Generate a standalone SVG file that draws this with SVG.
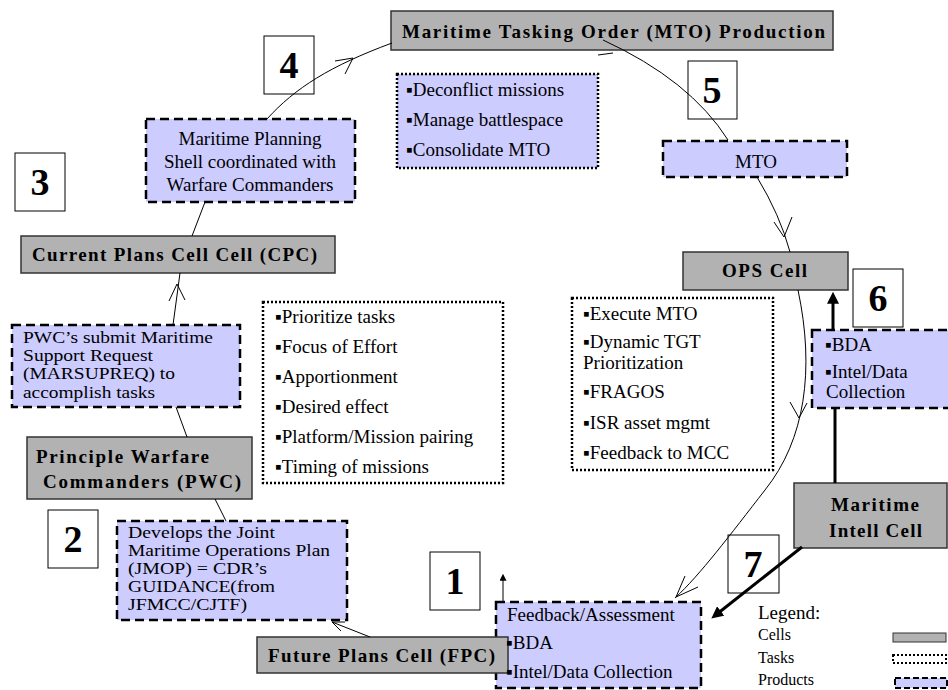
<svg xmlns="http://www.w3.org/2000/svg" width="948" height="690" viewBox="0 0 948 690">
<defs>
<style>
text{font-family:"Liberation Serif","Times New Roman",serif;font-size:19px;fill:#000}
.b{font-weight:bold}
.c{text-anchor:middle}
.s{font-size:16.5px}
.n{font-size:38px;font-weight:bold;text-anchor:middle}
.lg{font-size:16px}
.cell{fill:#b2b2b2;stroke:#333;stroke-width:1.5}
.task{fill:#fff;stroke:#000;stroke-width:2.5;stroke-dasharray:2 2}
.taskp{fill:#ccccff;stroke:#000;stroke-width:2.5;stroke-dasharray:2 2}
.prod{fill:#ccccff;stroke:#000;stroke-width:2.5;stroke-dasharray:9 5}
.num{fill:#fff;stroke:#000;stroke-width:1}
.ln{fill:none;stroke:#000;stroke-width:1}
.th{fill:none;stroke:#000;stroke-width:3}
</style>
<marker id="ah" viewBox="0 0 10 10" refX="4" refY="5" markerWidth="12" markerHeight="12" markerUnits="userSpaceOnUse" orient="auto"><path d="M0,0 L10,5 L0,10 z" fill="#000"/></marker>
<marker id="ahs" viewBox="0 0 10 10" refX="4" refY="5" markerWidth="7" markerHeight="7" markerUnits="userSpaceOnUse" orient="auto"><path d="M0,0 L10,5 L0,10 z" fill="#000"/></marker>
</defs>
<rect width="948" height="690" fill="#fff"/>

<g id="mto-production"><rect class="cell" x="391" y="11" width="442" height="39"/><text class="b" x="402" y="38" textLength="423" lengthAdjust="spacing">Maritime Tasking Order (MTO) Production</text></g>
<g id="num4"><rect class="num" x="264" y="36" width="50" height="58"/><text class="n" x="289" y="78">4</text></g>
<g id="num5"><rect class="num" x="688" y="61" width="49" height="58"/><text class="n" x="712" y="103">5</text></g>
<g id="mto-tasks"><rect class="taskp" x="397" y="74" width="201" height="94"/><text x="406" y="96">▪Deconflict missions</text><text x="406" y="126">▪Manage battlespace</text><text x="406" y="156">▪Consolidate MTO</text></g>
<g id="mto-product"><rect class="prod" x="663" y="141" width="184" height="36"/><text class="c" x="756" y="168">MTO</text></g>
<g id="planning-shell"><rect class="prod" x="146" y="119" width="209" height="83"/><text class="c" x="250" y="145">Maritime Planning</text><text class="c" x="250" y="168">Shell coordinated with</text><text class="c" x="250" y="191">Warfare Commanders</text></g>
<g id="num3"><rect class="num" x="15" y="153" width="50" height="58"/><text class="n" x="40" y="195">3</text></g>
<g id="cpc"><rect class="cell" x="21" y="236" width="314" height="37"/><text class="b" x="32" y="261" textLength="285" lengthAdjust="spacing">Current Plans Cell Cell (CPC)</text></g>
<g id="ops-cell"><rect class="cell" x="683" y="252" width="165" height="38"/><text class="b" x="722" y="277" textLength="85" lengthAdjust="spacing">OPS Cell</text></g>
<g id="num6"><rect class="num" x="853" y="269" width="50" height="58"/><text class="n" x="878" y="311">6</text></g>
<g id="bda-product"><rect class="prod" x="812" y="330" width="150" height="78"/><text x="825" y="351">▪BDA</text><text x="825" y="378">▪Intel/Data</text><text x="826" y="398">Collection</text></g>
<g id="pwc-request"><rect class="prod" x="12" y="325" width="228" height="82"/><text class="s" x="23" y="343" textLength="190" lengthAdjust="spacingAndGlyphs">PWC’s submit Maritime</text><text class="s" x="23" y="361" textLength="130" lengthAdjust="spacingAndGlyphs">Support Request</text><text class="s" x="23" y="379" textLength="152" lengthAdjust="spacingAndGlyphs">(MARSUPREQ) to</text><text class="s" x="23" y="398" textLength="132" lengthAdjust="spacingAndGlyphs">accomplish tasks</text></g>
<g id="cpc-tasks"><rect class="task" x="263" y="302" width="240" height="181"/><text x="275" y="323">▪Prioritize tasks</text><text x="275" y="353">▪Focus of Effort</text><text x="275" y="383">▪Apportionment</text><text x="275" y="413">▪Desired effect</text><text x="275" y="443">▪Platform/Mission pairing</text><text x="275" y="473">▪Timing of missions</text></g>
<g id="ops-tasks"><rect class="task" x="572" y="298" width="201" height="172"/><text x="583" y="320">▪Execute MTO</text><text x="583" y="348">▪Dynamic TGT</text><text x="583" y="369">Prioritization</text><text x="583" y="398">▪FRAGOS</text><text x="583" y="429">▪ISR asset mgmt</text><text x="583" y="459">▪Feedback to MCC</text></g>
<g id="pwc"><rect class="cell" x="27" y="437" width="225" height="62"/><text class="b" x="36" y="463" textLength="173" lengthAdjust="spacing">Principle Warfare</text><text class="b" x="43" y="488" textLength="198" lengthAdjust="spacing">Commanders (PWC)</text></g>
<g id="intell-cell"><rect class="cell" x="794" y="483" width="153" height="65"/><text class="b" x="831" y="511" textLength="88" lengthAdjust="spacing">Maritime</text><text class="b" x="829" y="537" textLength="93" lengthAdjust="spacing">Intell Cell</text></g>
<g id="num2"><rect class="num" x="48" y="510" width="50" height="58"/><text class="n" x="73" y="552">2</text></g>
<g id="jmop"><rect class="prod" x="117" y="521" width="230" height="99"/><text class="s" x="128" y="538" textLength="147" lengthAdjust="spacingAndGlyphs">Develops the Joint</text><text class="s" x="128" y="556" textLength="202" lengthAdjust="spacingAndGlyphs">Maritime Operations Plan</text><text class="s" x="128" y="574" textLength="139" lengthAdjust="spacingAndGlyphs">(JMOP) = CDR’s</text><text class="s" x="128" y="592" textLength="147" lengthAdjust="spacingAndGlyphs">GUIDANCE(from</text><text class="s" x="128" y="610" textLength="119" lengthAdjust="spacingAndGlyphs">JFMCC/CJTF)</text></g>
<g id="num7"><rect class="num" x="728" y="535" width="51" height="58"/><text class="n" x="753" y="577">7</text></g>
<g id="num1"><rect class="num" x="430" y="552" width="50" height="58"/><text class="n" x="455" y="594">1</text></g>
<g id="feedback"><rect class="prod" x="496" y="602" width="205" height="86"/></g>
<g id="fpc"><rect class="cell" x="257" y="637" width="251" height="36"/><text class="b" x="268" y="662" textLength="227" lengthAdjust="spacing">Future Plans Cell (FPC)</text></g>
<g id="feedback-text"><text x="507" y="621">Feedback/Assessment</text><text x="506" y="649">▪BDA</text><text x="506" y="678">▪Intel/Data Collection</text></g>
<g id="legend"><text x="758" y="619">Legend:</text><text class="lg" x="758" y="640">Cells</text><text class="lg" x="758" y="663">Tasks</text><text class="lg" x="758" y="685">Products</text>
<rect x="893" y="633" width="53" height="9" fill="#b2b2b2" stroke="#333" stroke-width="1"/>
<rect x="893" y="655" width="53" height="8" fill="#fff" stroke="#000" stroke-width="2" stroke-dasharray="2 2"/>
<rect x="895" y="678" width="52" height="10" fill="#ccccff" stroke="#000" stroke-width="2" stroke-dasharray="6 3"/></g>

<g id="connectors">
<path class="ln" d="M267,119 C295,88 330,66 392,43"/>
<polyline class="ln" points="335,61 353,58 345,74"/>
<path class="ln" d="M603,40 Q690,80 728,140"/>
<polyline class="ln" points="598,55 613,53"/>
<path class="ln" d="M757,177 Q780,215 790,252"/>
<polyline class="ln" points="774,222 784,237 792,217"/>
<path class="ln" d="M798,290 C815,370 805,440 765,490 C730,535 700,575 675,598"/>
<polyline class="ln" points="790,402 799,418 807,403"/>
<polyline class="ln" points="685,576 676,597 698,587"/>
<path class="ln" d="M173,325 L180,273"/>
<polyline class="ln" points="169,301 177,284 185,300"/>
<path class="ln" d="M187,437 L176,407"/>
<path class="ln" d="M215,499 L226,521"/>
<path class="ln" d="M192,236 L205,202"/>
<path class="ln" d="M370,637 L332,622"/>
<polyline class="ln" points="341,631 332,622 345,622"/>
<path class="th" d="M833,330 L833,299" marker-end="url(#ah)"/>
<path class="th" d="M835,483 L835,408"/>
<path class="th" d="M802,547 L717,614" marker-end="url(#ah)"/>
<path class="ln" d="M503,602 L503,578" stroke-width="1.5" marker-end="url(#ahs)"/>
</g>
</svg>
